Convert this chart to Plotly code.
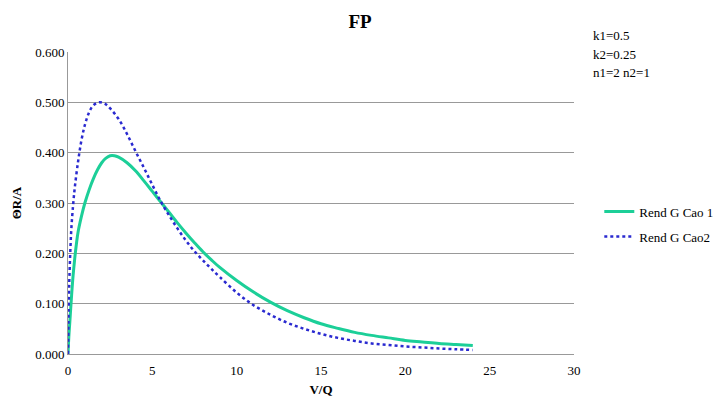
import plotly.graph_objects as go

x_vals = [0, 0.05, 0.1, 0.2, 0.3, 0.4, 0.5, 0.6, 0.8, 1.0, 1.25, 1.5, 1.75, 2.0, 2.25, 2.5,
          2.75, 3.0, 3.5, 4.0, 4.5, 5.0, 5.5, 6.0, 6.5, 7.0, 7.5, 8.0, 8.5, 9.0, 10, 11, 12,
          13, 14, 15, 16, 17, 18, 19, 20, 21, 22, 23, 24]
cao1 = [0, 0.035, 0.06, 0.11, 0.155, 0.19, 0.219, 0.243, 0.274, 0.300, 0.326, 0.348, 0.366,
        0.380, 0.389, 0.394, 0.394, 0.391, 0.380, 0.364, 0.344, 0.323, 0.302, 0.281, 0.260,
        0.240, 0.221, 0.203, 0.187, 0.172, 0.146, 0.123, 0.103, 0.086, 0.072, 0.060, 0.051,
        0.043, 0.037, 0.032, 0.027, 0.024, 0.021, 0.019, 0.017]
x2_vals = [0, 0.05, 0.1, 0.15, 0.2, 0.3, 0.4, 0.6, 0.8, 1.0, 1.25, 1.5, 1.85, 2.2, 2.5, 3.0,
           3.5, 4.0, 4.5, 5.0, 5.5, 6.0, 6.5, 7.0, 7.5, 8.0, 8.5, 9.0, 10, 11, 12, 13, 14, 15,
           16, 17, 18, 19, 20, 21, 22, 23, 24]
cao2 = [0, 0.11, 0.17, 0.215, 0.25, 0.295, 0.33, 0.383, 0.425, 0.455, 0.480, 0.494, 0.500,
        0.497, 0.488, 0.467, 0.437, 0.403, 0.370, 0.336, 0.303, 0.275, 0.249, 0.225, 0.204,
        0.186, 0.169, 0.153, 0.122, 0.097, 0.078, 0.062, 0.050, 0.040, 0.032, 0.026, 0.021,
        0.018, 0.015, 0.013, 0.011, 0.0095, 0.008]
names = ["Rend G Cao 1", "Rend G Cao2"]
params = ["k1=0.5", "k2=0.25", "n1=2 n2=1"]

FONT = "Liberation Serif"

fig = go.Figure()
fig.add_trace(go.Scatter(x=x_vals, y=cao1, mode="lines", name=names[0], legendgroup="a",
                         line=dict(color="#1ccf98", width=3, shape="spline")))
fig.add_trace(go.Scatter(x=x2_vals, y=cao2, mode="lines", name=names[1], legendgroup="b",
                         line=dict(color="#2a2ad0", width=2.5, dash="dot", shape="spline")))

fig.update_layout(
    width=718, height=397,
    margin=dict(l=68, r=144, t=52, b=43, autoexpand=False),
    paper_bgcolor="white", plot_bgcolor="white",
    font=dict(family=FONT, size=13, color="#000"),
    title=dict(text="<b>FP</b>", x=360 / 718, xanchor="center",
               y=1 - 21 / 397, yanchor="middle", font=dict(size=19, family=FONT)),
    xaxis=dict(range=[0, 30], dtick=5, showgrid=False, showline=True, linecolor="#999",
               linewidth=1, ticks="", zeroline=False, ticklabelstandoff=4,
               title=dict(text="<b>V/Q</b>", standoff=10, font=dict(size=13, family=FONT))),
    yaxis=dict(range=[0, 0.6], dtick=0.1, tickformat=".3f", showgrid=True,
               gridcolor="#999", gridwidth=1, showline=True, linecolor="#999",
               linewidth=1, ticks="", zeroline=False,
               title=dict(text="<b>ΘR/A</b>", standoff=10, font=dict(size=13, family=FONT))),
    legend=dict(x=1.05, y=0.43, xanchor="left", yanchor="middle", traceorder="grouped",
                font=dict(size=13, family=FONT), bgcolor="rgba(0,0,0,0)", tracegroupgap=5),
    showlegend=True,
)

for i, t in enumerate(params):
    fig.add_annotation(text=t, xref="paper", yref="paper", x=(591 - 68) / 506,
                       y=1 + (52 - (36 + i * 18)) / 302, xanchor="left", yanchor="middle",
                       showarrow=False, font=dict(size=13, family=FONT))

fig.write_html("out.html")
